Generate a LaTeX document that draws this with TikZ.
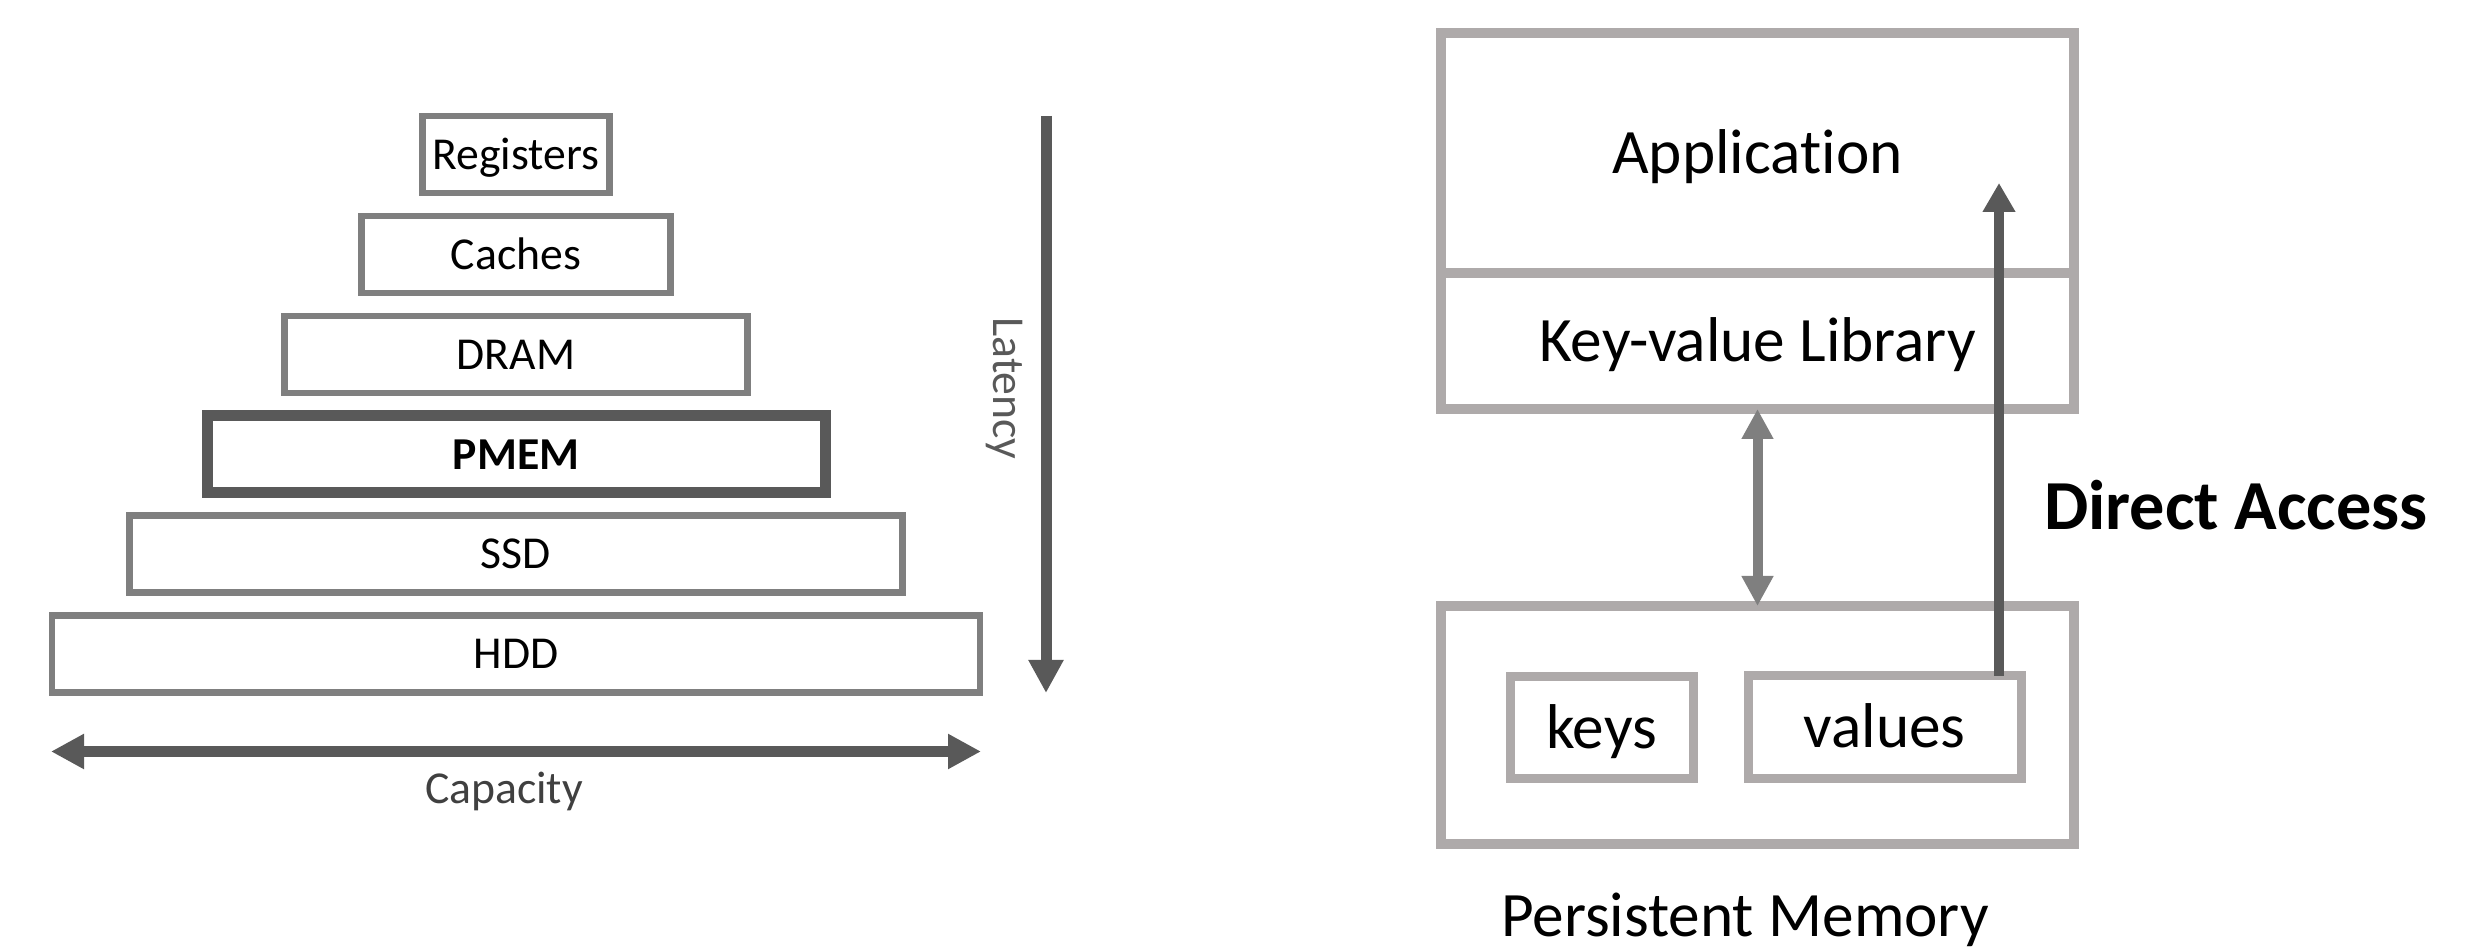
\documentclass[tikz,border=0pt]{standalone}
\usepackage{fontspec}
\setmainfont{Carlito}[Ligatures=CommonOff]
\usetikzlibrary{arrows.meta}

\definecolor{tiergray}{HTML}{7F7F7F}
\definecolor{inkdark}{HTML}{595959}
\definecolor{panelgray}{HTML}{AEAAAA}
\definecolor{linkgray}{HTML}{7F7F7F}
\definecolor{labelgray}{HTML}{404040}

\begin{document}
\begin{tikzpicture}[
  tier/.style={draw=tiergray, line width=0.065cm, minimum height=0.77cm,
    inner sep=0pt, outer sep=0pt, font=\fontsize{13}{15}\selectfont,
    text height=8.4pt, text depth=0pt},
  panel/.style={draw=panelgray, line width=0.10cm, inner sep=0pt, outer sep=0pt,
    font=\fontsize{18}{22}\selectfont, text height=11.6pt, text depth=0pt},
  cell/.style={draw=panelgray, line width=0.09cm, inner sep=0pt, outer sep=0pt,
    font=\fontsize{18}{22}\selectfont, text height=11.6pt, text depth=0pt},
  axis/.style={draw=inkdark, line width=0.11cm},
  axislabel/.style={font=\fontsize{13}{15}\selectfont, inner sep=0pt,
    text height=8.4pt, text depth=0pt},
  link/.style={draw=linkgray, line width=0.10cm,
    {Triangle[length=0.30cm, width=0.30cm]}-{Triangle[length=0.30cm, width=0.30cm]}},
  direct/.style={draw=inkdark, line width=0.10cm,
    -{Triangle[length=0.29cm, width=0.31cm]}}
]
\useasboundingbox (0,0) rectangle (24.88,-9.51);

% memory hierarchy pyramid
\node[tier, minimum width=1.87cm] (reg) at (5.16,-1.545) {Registers};
\node[tier, minimum width=3.09cm] (cache) at (5.16,-2.545) {Caches};
\node[tier, minimum width=4.63cm] (dram) at (5.16,-3.545) {DRAM};
\node[tier, draw=inkdark, line width=0.11cm, minimum width=6.18cm,
  font=\fontsize{13}{15}\selectfont\bfseries] (pmem) at (5.16,-4.545) {PMEM};
\node[tier, minimum width=7.73cm] (ssd) at (5.16,-5.54) {SSD};
\node[tier, minimum width=9.28cm] (hdd) at (5.16,-6.54) {HDD};

% latency axis
\coordinate (latTop) at (10.46,-1.16);
\coordinate (latBot) at (10.46,-6.93);
\draw[axis, -{Triangle[length=0.33cm, width=0.33cm]}] (latTop) -- (latBot);
\node[axislabel, text=inkdark, rotate=-90] (latency) at (10.08,-3.885) {Latency};

% capacity axis
\coordinate (capL) at (0.51,-7.515);
\coordinate (capR) at (9.81,-7.515);
\draw[axis, {Triangle[length=0.33cm, width=0.33cm]}-{Triangle[length=0.33cm, width=0.33cm]}] (capL) -- (capR);
\node[axislabel, text=labelgray] (capacity) at (5.04,-7.89) {Capacity};

% software stack
\node[panel, minimum width=6.33cm, minimum height=2.40cm] (app) at (17.575,-1.53) {Application};
\node[panel, minimum width=6.33cm, minimum height=1.36cm] (kvl) at (17.575,-3.41) {Key-value Library};

% persistent memory with its contents
\node[panel, minimum width=6.33cm, minimum height=2.38cm] (pm) at (17.575,-7.25) {};
\node[cell, minimum width=1.83cm, minimum height=1.02cm] (keys) at (16.015,-7.28) {keys};
\node[cell, minimum width=2.73cm, minimum height=1.03cm] (vals) at (18.845,-7.275) {values};

% connectors
\draw[link] (kvl.south) -- (pm.north);
\coordinate (daTop) at (19.99,-1.83);
\draw[direct] (vals.north -| daTop) -- (daTop);

\node[font=\fontsize{20}{24}\selectfont\bfseries, anchor=base, inner sep=0pt] (dalabel) at (22.36,-5.30) {Direct Access};
\node[font=\fontsize{18}{22}\selectfont, anchor=base, inner sep=0pt] (pmlabel) at (17.45,-9.37) {Persistent Memory};
\end{tikzpicture}
\end{document}
